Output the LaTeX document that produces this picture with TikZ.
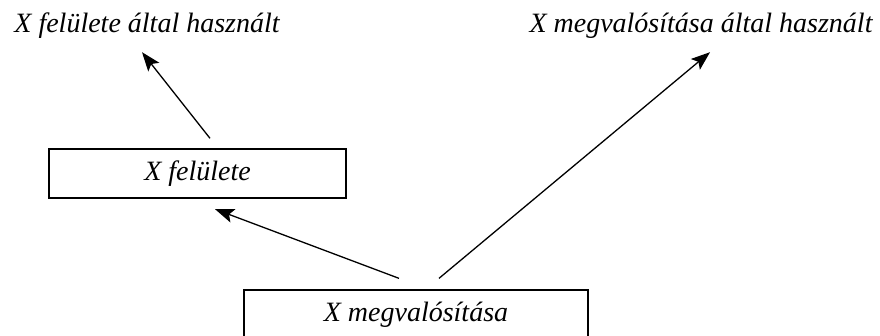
\documentclass[tikz,border=0pt]{standalone}
\usepackage{fontspec}
\setmainfont{Liberation Serif}
\usetikzlibrary{arrows.meta}
\begin{document}
\begin{tikzpicture}[x=1pt,y=-1pt,
  lbl/.style={inner sep=0pt,text height=19pt,text depth=6pt,anchor=base,font=\fontsize{28}{32}\selectfont\itshape},
  box/.style={draw,line width=1.3pt,inner sep=0pt,font=\fontsize{28}{32}\selectfont\itshape},
  arr/.style={line width=1.3pt,-{Stealth[length=19pt,width=14pt,inset=4pt]}}]
\useasboundingbox (0,0) rectangle (880,336);
\fill[white] (0,0) rectangle (880,336);
\node[lbl] (t1) at (147,33) {X felülete által használt};
\node[lbl] (t2) at (701,33) {X megvalósítása által használt};
\node[box,minimum width=297pt,minimum height=49pt] (b1) at (197.5,173.5) {X felülete};
\node[box,minimum width=344pt,minimum height=49pt] (b2) at (416,314.5) {X megvalósítása};
\draw[arr] ([shift={(12.5,-10)}]b1.north) -- ([shift={(-5,13)}]t1.south);
\draw[arr] ([shift={(-17,-11)}]b2.north) -- ([shift={(17.5,10.5)}]b1.south);
\draw[arr] ([shift={(23,-11)}]b2.north) -- ([shift={(9,13)}]t2.south);
\end{tikzpicture}
\end{document}
